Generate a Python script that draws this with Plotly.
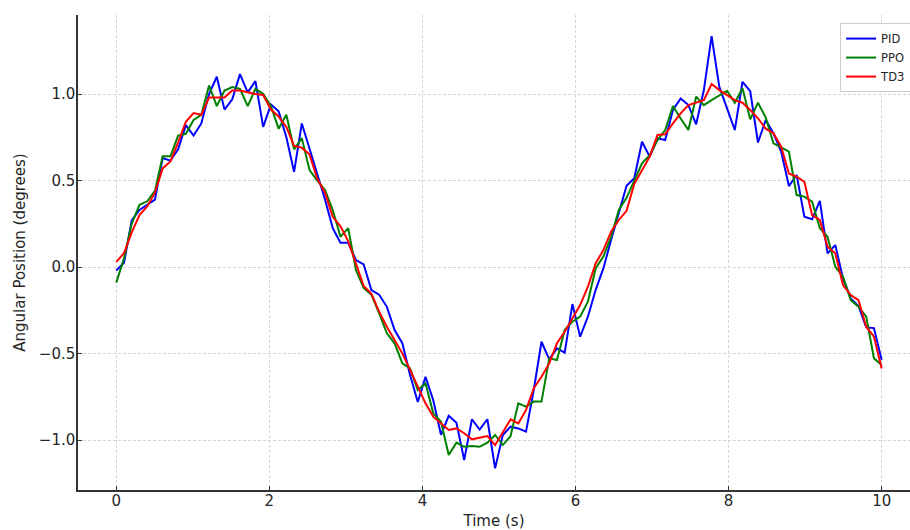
import plotly.graph_objects as go

# Time samples (100 samples evenly spaced between 0 and 10 s)
n_samples = 100
time_s = [round(i * 10 / (n_samples - 1), 4) for i in range(n_samples)]

pid = [
    -0.02, 0.025, 0.27, 0.33, 0.36, 0.39, 0.63, 0.615, 0.68, 0.82,
    0.76, 0.83, 1.00, 1.10, 0.91, 0.97, 1.115, 1.01, 1.075, 0.81,
    0.94, 0.90, 0.75, 0.55, 0.83, 0.68, 0.54, 0.39, 0.225, 0.14,
    0.14, 0.04, 0.015, -0.133, -0.16, -0.23, -0.364, -0.44, -0.624, -0.78,
    -0.634, -0.77, -0.97, -0.86, -0.90, -1.116, -0.88, -0.94, -0.88, -1.164,
    -0.971, -0.923, -0.933, -0.952, -0.711, -0.432, -0.534, -0.470, -0.495, -0.214,
    -0.403, -0.287, -0.133, -0.008, 0.156, 0.31, 0.47, 0.513, 0.724, 0.638,
    0.744, 0.734, 0.908, 0.975, 0.936, 0.825, 1.023, 1.335, 1.042, 0.917,
    0.792, 1.071, 1.017, 0.72, 0.85, 0.773, 0.667, 0.468, 0.532, 0.291,
    0.276, 0.383, 0.079, 0.127, -0.066, -0.181, -0.225, -0.349, -0.353, -0.538,
]

ppo = [
    -0.09, 0.05, 0.25, 0.36, 0.38, 0.44, 0.64, 0.64, 0.76, 0.77,
    0.85, 0.88, 1.05, 0.93, 1.02, 1.04, 1.03, 0.93, 1.03, 1.00,
    0.93, 0.80, 0.88, 0.68, 0.745, 0.56, 0.50, 0.445, 0.33, 0.175,
    0.225, -0.017, -0.12, -0.16, -0.268, -0.383, -0.441, -0.557, -0.586, -0.711,
    -0.672, -0.846, -0.894, -1.087, -1.015, -1.039, -1.035, -1.039, -1.015, -0.971,
    -1.029, -0.977, -0.788, -0.807, -0.778, -0.778, -0.528, -0.538, -0.364, -0.316,
    -0.287, -0.20, -0.008, 0.06, 0.175, 0.33, 0.40, 0.503, 0.599, 0.647,
    0.734, 0.792, 0.931, 0.859, 0.792, 0.985, 0.936, 0.965, 0.994, 1.019,
    0.950, 1.033, 0.854, 0.950, 0.865, 0.715, 0.692, 0.667, 0.416, 0.407,
    0.378, 0.224, 0.175, 0.002, -0.056, -0.191, -0.229, -0.287, -0.528, -0.566,
]

td3 = [
    0.03, 0.08, 0.20, 0.30, 0.35, 0.43, 0.57, 0.61, 0.72, 0.84,
    0.89, 0.88, 0.98, 0.98, 0.98, 1.02, 1.02, 1.01, 1.00, 0.995,
    0.91, 0.87, 0.81, 0.70, 0.69, 0.65, 0.51, 0.43, 0.29, 0.235,
    0.15, 0.02, -0.11, -0.155, -0.258, -0.345, -0.422, -0.499, -0.595, -0.692,
    -0.788, -0.865, -0.904, -0.942, -0.933, -0.961, -0.996, -0.985, -0.977, -1.029,
    -0.952, -0.881, -0.904, -0.827, -0.701, -0.634, -0.557, -0.441, -0.374, -0.297,
    -0.22, -0.114, 0.021, 0.098, 0.204, 0.272, 0.325, 0.48, 0.561, 0.638,
    0.763, 0.767, 0.830, 0.888, 0.936, 0.950, 0.965, 1.058, 1.023, 0.994,
    0.965, 0.950, 0.908, 0.86, 0.80, 0.773, 0.696, 0.541, 0.522, 0.493,
    0.30, 0.272, 0.117, 0.079, -0.104, -0.162, -0.191, -0.345, -0.403, -0.586,
]

series = [("PID", pid, "#0000ff"), ("PPO", ppo, "#008000"), ("TD3", td3, "#ff0000")]

x_ticks = [0, 2, 4, 6, 8, 10]
y_ticks = [-1.0, -0.5, 0.0, 0.5, 1.0]
y_tick_text = ["\u22121.0", "\u22120.5", "0.0", "0.5", "1.0"]

fig = go.Figure()
for name, vals, color in series:
    fig.add_trace(go.Scatter(x=time_s, y=vals, mode="lines", name=name,
                             line=dict(color=color, width=2)))

font_family = "DejaVu Sans"
axis_common = dict(
    showline=True, linecolor="#333333", linewidth=1.5, mirror=False,
    ticks="inside", ticklen=4, tickwidth=1.2, tickcolor="#333333",
    showgrid=True, gridcolor="#d6d6d6", gridwidth=1, griddash="3px,2px",
    zeroline=False,
    tickfont=dict(family=font_family, size=15, color="#262626"),
)

fig.update_layout(
    width=910, height=530,
    margin=dict(l=78, r=0, t=15, b=40, autoexpand=False),
    paper_bgcolor="white", plot_bgcolor="white",
    font=dict(family=font_family, color="#262626"),
    xaxis=dict(range=[-0.5, 10.37], tickvals=x_ticks, ticklabelstandoff=-4,
               title=dict(text="Time (s)", font=dict(size=15), standoff=12),
               **axis_common),
    yaxis=dict(range=[-1.289, 1.457], tickvals=y_ticks, ticktext=y_tick_text,
               ticklabelstandoff=-2,
               title=dict(text="Angular Position (degrees)", font=dict(size=15), standoff=10),
               **axis_common),
    legend=dict(x=0.916, y=0.983, xanchor="left", yanchor="top",
                bgcolor="rgba(255,255,255,0.8)", bordercolor="#cccccc", borderwidth=1,
                font=dict(family=font_family, size=11.5, color="#262626"),
                itemwidth=30, tracegroupgap=0),
    showlegend=True,
)

fig.write_html(
    "out.html",
    config={"displayModeBar": False},
    post_script="document.body.style.margin='0';document.body.style.overflow='hidden';",
)
